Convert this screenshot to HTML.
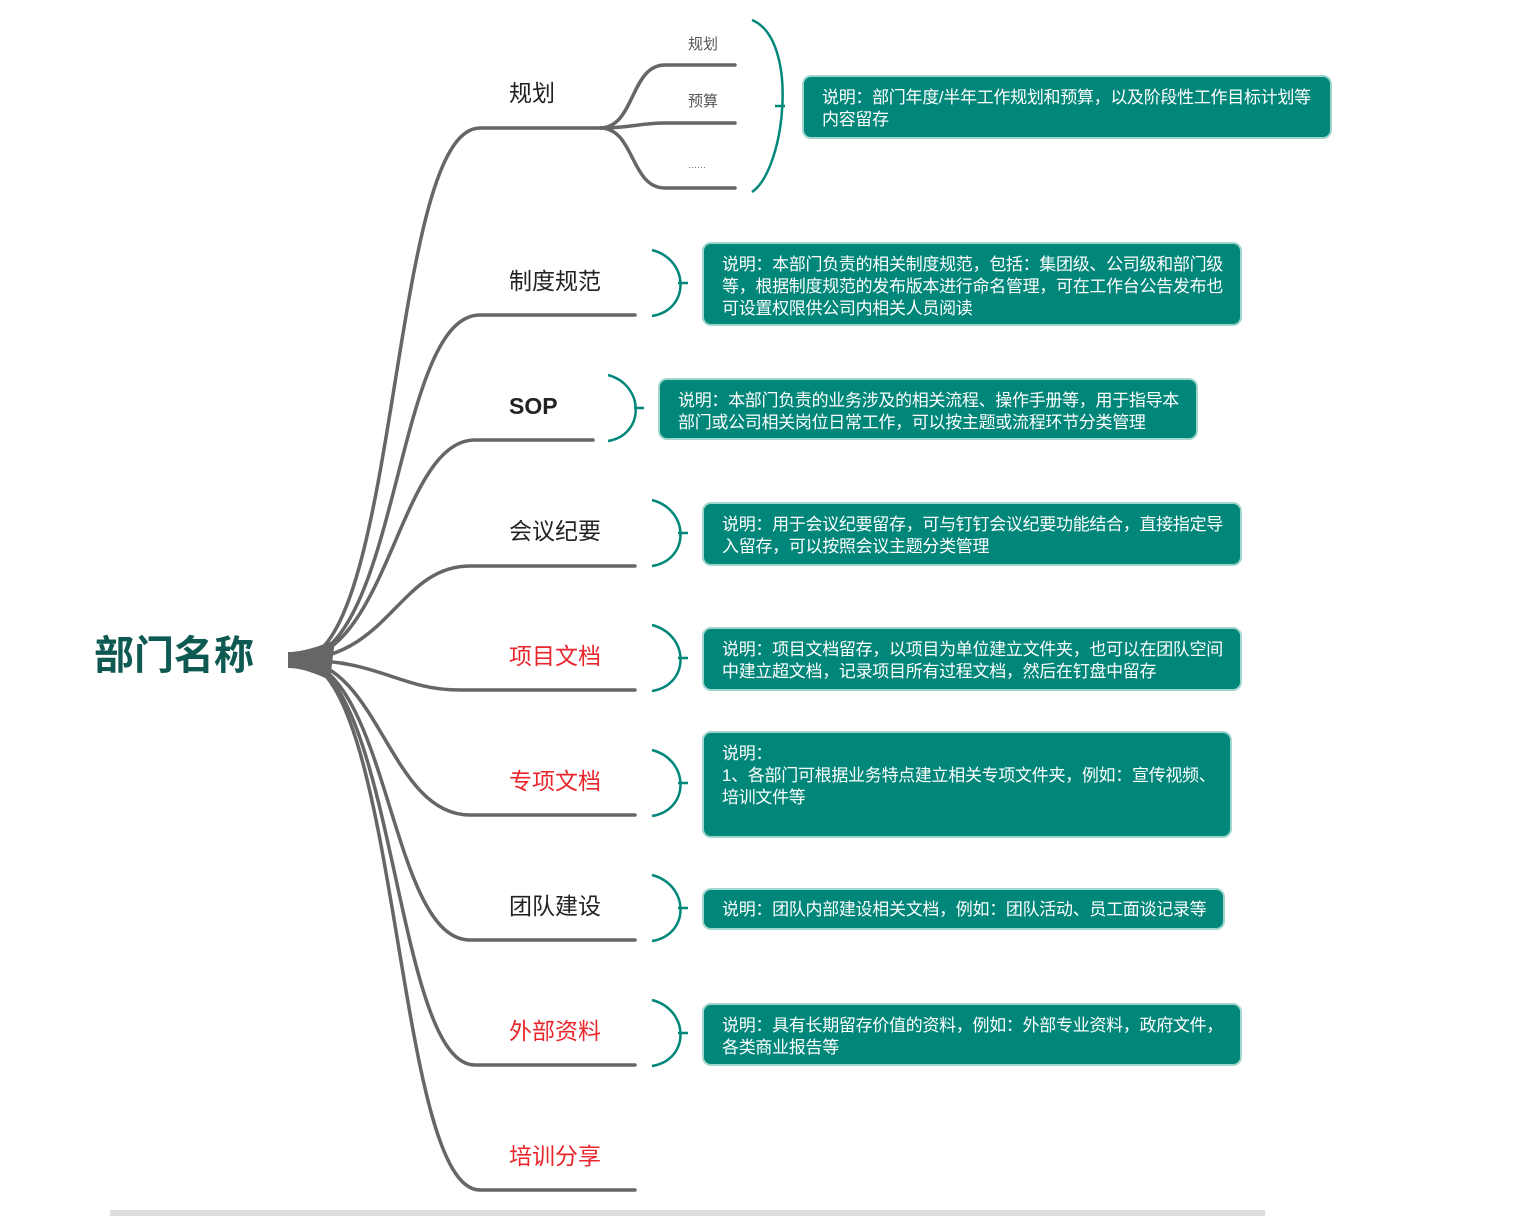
<!DOCTYPE html>
<html><head><meta charset="utf-8">
<style>
body{margin:0;width:1516px;height:1216px;background:#fff;position:relative;overflow:hidden;font-family:"Liberation Sans","Noto Sans CJK SC",sans-serif}
.lab{position:absolute;font-size:23px;color:#222;line-height:1}
.red{color:#e8262c}
.box{position:absolute;background:#00877a;border:2px solid #9fd7cf;border-radius:9px;color:#fff;font-size:17px;line-height:22px;padding:10px 18px 0 18px;box-sizing:border-box;letter-spacing:-0.3px;white-space:nowrap}
.sub{position:absolute;font-size:15px;color:#555}
</style></head><body>
<svg width="1516" height="1216" style="position:absolute;left:0;top:0">
<g fill="none" stroke="#666" stroke-width="3.5" stroke-linecap="round">
<path d="M300,660 C400,650 390,128 480,128 L600,128"/>
<path d="M300,660 C400,650 395,315 480,315 L635,315"/>
<path d="M300,660 C390,650 400,440 475,440 L593,440"/>
<path d="M300,660 C390,655 400,566 470,566 L635,566"/>
<path d="M300,660 C380,660 400,690 460,690 L635,690"/>
<path d="M300,660 C380,665 390,815 470,815 L635,815"/>
<path d="M300,660 C390,670 390,940 470,940 L635,940"/>
<path d="M300,660 C395,670 395,1065 475,1065 L635,1065"/>
<path d="M300,660 C400,670 395,1190 480,1190 L635,1190"/>
<path d="M600,128 C635,128 630,65 665,65 L735,65"/>
<path d="M600,128 C630,128 640,123 665,123 L735,123"/>
<path d="M600,128 C635,128 630,188 665,188 L735,188"/>
</g>
<path d="M288,652 L288,668 C300,668 312,672 330,680 L335,640 C315,648 300,652 288,652 Z" fill="#666"/>
<g fill="none" stroke="#00877a" stroke-width="2.5">
<path d="M752,20 C800,40 785,170 752,192 M775,106 L785,106"/>
<path d="M652,250 C690,260 690,310 652,316 M678,283 L688,283"/>
<path d="M608,375 C645,385 645,435 608,441 M634,408 L644,408"/>
<path d="M652,500 C690,510 690,560 652,566 M678,533 L688,533"/>
<path d="M652,625 C690,635 690,685 652,691 M678,658 L688,658"/>
<path d="M652,750 C690,760 690,810 652,816 M678,783 L688,783"/>
<path d="M652,875 C690,885 690,935 652,941 M678,908 L688,908"/>
<path d="M652,1000 C690,1010 690,1060 652,1066 M678,1033 L688,1033"/>
</g>
<rect x="110" y="1210" width="1155" height="6" fill="#ddd"/>
</svg>
<div style="position:absolute;left:94px;top:636px;font-size:40px;font-weight:bold;color:#0e5a52;line-height:1">部门名称</div>
<div class="lab" style="left:509px;top:82px">规划</div>
<div class="lab" style="left:509px;top:270px">制度规范</div>
<div class="lab" style="left:509px;top:395px;font-weight:bold">SOP</div>
<div class="lab" style="left:509px;top:520px">会议纪要</div>
<div class="lab red" style="left:509px;top:645px">项目文档</div>
<div class="lab red" style="left:509px;top:770px">专项文档</div>
<div class="lab" style="left:509px;top:895px">团队建设</div>
<div class="lab red" style="left:509px;top:1020px">外部资料</div>
<div class="lab red" style="left:509px;top:1145px">培训分享</div>
<div class="sub" style="left:688px;top:33px">规划</div>
<div class="sub" style="left:688px;top:90px">预算</div>
<div class="sub" style="left:688px;top:160px;font-size:9px">……</div>
<div class="box" style="left:802px;top:75px;width:530px;height:64px;padding-top:10px">说明：部门年度/半年工作规划和预算，以及阶段性工作目标计划等<br>内容留存</div>
<div class="box" style="left:702px;top:242px;width:540px;height:84px">说明：本部门负责的相关制度规范，包括：集团级、公司级和部门级<br>等，根据制度规范的发布版本进行命名管理，可在工作台公告发布也<br>可设置权限供公司内相关人员阅读</div>
<div class="box" style="left:658px;top:378px;width:540px;height:62px">说明：本部门负责的业务涉及的相关流程、操作手册等，用于指导本<br>部门或公司相关岗位日常工作，可以按主题或流程环节分类管理</div>
<div class="box" style="left:702px;top:502px;width:540px;height:64px">说明：用于会议纪要留存，可与钉钉会议纪要功能结合，直接指定导<br>入留存，可以按照会议主题分类管理</div>
<div class="box" style="left:702px;top:627px;width:540px;height:64px">说明：项目文档留存，以项目为单位建立文件夹，也可以在团队空间<br>中建立超文档，记录项目所有过程文档，然后在钉盘中留存</div>
<div class="box" style="left:702px;top:731px;width:530px;height:107px">说明：<br>1、各部门可根据业务特点建立相关专项文件夹，例如：宣传视频、<br>培训文件等</div>
<div class="box" style="left:702px;top:888px;width:523px;height:42px;padding-top:9px">说明：团队内部建设相关文档，例如：团队活动、员工面谈记录等</div>
<div class="box" style="left:702px;top:1003px;width:540px;height:63px">说明：具有长期留存价值的资料，例如：外部专业资料，政府文件，<br>各类商业报告等</div>
</body></html>
